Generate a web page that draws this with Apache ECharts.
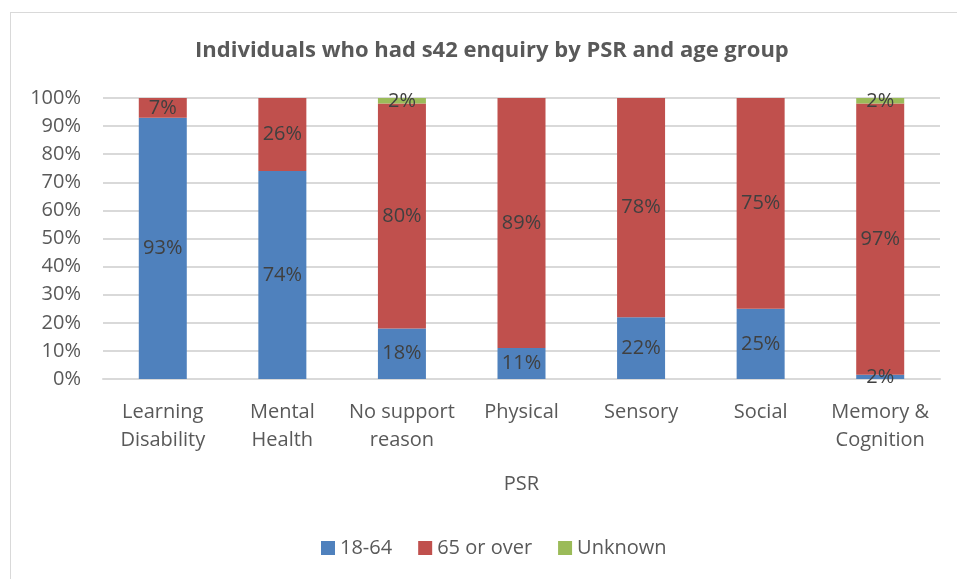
<!DOCTYPE html>
<html>
<head>
<meta charset="utf-8">
<script src="https://cdn.jsdelivr.net/npm/echarts@6/dist/echarts.min.js"></script>
<style>
  html, body { margin: 0; padding: 0; background: #fff; overflow: hidden; }
  .frame {
    position: absolute; left: 10px; top: 12px;
    width: 960px; height: 580px;
    border: 1px solid #d9d9d9; box-sizing: border-box;
  }
  #chart { position: absolute; left: 0; top: 0; width: 957px; height: 579px; }
</style>
</head>
<body>
<div class="frame"></div>
<div id="chart"></div>
<script>
  const categories = ["Learning\nDisability", "Mental\nHealth", "No support\nreason", "Physical", "Sensory", "Social", "Memory &\nCognition"];
  const age18to64 = [93, 74, 18, 11, 22, 25, 1.5];
  const age65plus = [7, 26, 80, 89, 78, 75, 96.5];
  const unknown = [0, 0, 2, 0, 0, 0, 2];
  const yTicks = [0, 10, 20, 30, 40, 50, 60, 70, 80, 90, 100];

  const font = "'Open Sans', 'Noto Sans', sans-serif";
  const labelStyle = {
    show: true,
    position: "inside",
    color: "#404040",
    fontSize: 20,
    fontFamily: font,
    formatter: p => p.value > 0 ? Math.round(p.value) + "%" : ""
  };

  const makeSeries = (name, data, color) => ({
    name: name,
    type: "bar",
    stack: "total",
    data: data,
    barWidth: 48,
    itemStyle: { color: color },
    label: labelStyle
  });

  const option = {
    animation: false,
    title: {
      text: "Individuals who had s42 enquiry by PSR and age group",
      left: 190,
      top: 35,
      textStyle: { fontSize: 22, fontWeight: "bold", fontFamily: font, color: "#595959" }
    },
    grid: { left: 103, right: 17, top: 98, bottom: 200 },
    legend: {
      bottom: 16,
      left: 316,
      itemWidth: 14,
      itemHeight: 14,
      itemGap: 26,
      icon: "rect",
      textStyle: { fontSize: 20, fontFamily: font, color: "#595959" },
      data: ["18-64", "65 or over", "Unknown"]
    },
    xAxis: {
      type: "category",
      data: categories,
      name: "PSR",
      nameLocation: "middle",
      nameGap: 95,
      nameTextStyle: { fontSize: 20, fontFamily: font, color: "#595959" },
      axisLine: { lineStyle: { color: "#d9d9d9", width: 2 } },
      axisTick: { show: false },
      axisLabel: { fontSize: 20, fontFamily: font, color: "#595959", lineHeight: 28, margin: 19, interval: 0 }
    },
    yAxis: {
      type: "value",
      min: yTicks[0],
      max: yTicks[yTicks.length - 1],
      interval: 10,
      axisLine: { show: false },
      axisTick: { show: false },
      splitLine: { lineStyle: { color: "#d9d9d9", width: 2 } },
      axisLabel: { fontSize: 20, fontFamily: font, color: "#595959", margin: 22, formatter: "{value}%" }
    },
    series: [
      makeSeries("18-64", age18to64, "#4f81bd"),
      makeSeries("65 or over", age65plus, "#c0504d"),
      makeSeries("Unknown", unknown, "#9bbb59")
    ]
  };

  const chart = echarts.init(document.getElementById("chart"));
  chart.setOption(option);
</script>
</body>
</html>
